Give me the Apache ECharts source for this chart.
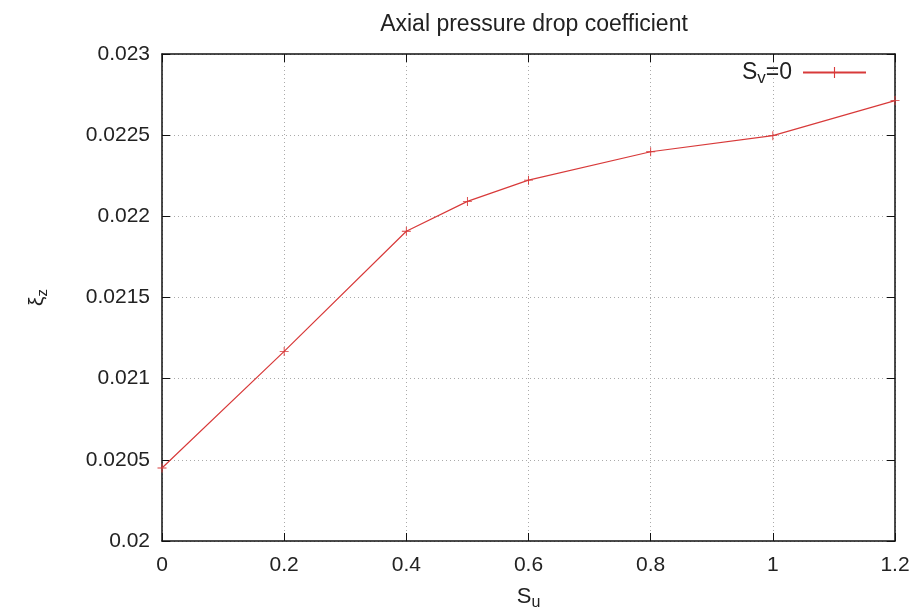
<!DOCTYPE html>
<html><head><meta charset="utf-8">
<script src="https://cdn.jsdelivr.net/npm/echarts@6/dist/echarts.min.js"></script>
<style>html,body{margin:0;padding:0;background:#fff}#c{width:916px;height:616px}</style>
</head><body><div id="c"></div>
<script>
const xValues = [0, 0.2, 0.4, 0.5, 0.6, 0.8, 1.0, 1.2];
const yValues = [0.020450, 0.021168, 0.021908, 0.022092, 0.022223, 0.022398, 0.022497, 0.022713];
const seriesName = 'S_v=0';
const titleText = 'Axial pressure drop coefficient';

const FONT = '"Liberation Sans", Arial, sans-serif';
const RED = '#d83a3a';
const fmt = v => String(+v.toFixed(5));
const plus = 'path://M-5,-0.5L5,-0.5L5,0.5L-5,0.5Z M-0.5,-5L0.5,-5L0.5,5L-0.5,5Z';

const chart = echarts.init(document.getElementById('c'));
chart.setOption({
  animation: false,
  backgroundColor: '#fff',
  title: { text: titleText, left: 529, textAlign: 'center', top: 8,
    textStyle: { fontFamily: FONT, fontSize: 23, fontWeight: 'normal', color: '#222' } },
  grid: { left: 162, right: 21, top: 54, bottom: 73, containLabel: false },
  legend: {
    right: 44, top: 56, align: 'right', itemWidth: 63, itemHeight: 14, itemGap: 10,
    data: [{ name: seriesName }],
    formatter: () => '{a|S}{b|v}{a|=0}',
    textStyle: { fontFamily: FONT, color: '#222', padding: [0, 6, 0, 0],
      rich: { a: { fontSize: 23, fontFamily: FONT, color: '#222' },
              b: { fontSize: 17, fontFamily: FONT, color: '#222', padding: [12, 0, 0, 0] } } }
  },
  xAxis: [{
    type: 'value', min: 0, max: 1.2, interval: 0.2, position: 'bottom',
    name: '{a|S}{b|u}', nameLocation: 'middle', nameGap: 42,
    nameTextStyle: { rich: { a: { fontSize: 22, fontFamily: FONT, color: '#222' },
                             b: { fontSize: 16, fontFamily: FONT, color: '#222', padding: [12, 0, 0, 0] } } },
    axisLine: { show: true, onZero: false, lineStyle: { color: '#111', width: 1.5 } },
    axisTick: { show: true, inside: true, length: 8, lineStyle: { color: '#111' } },
    axisLabel: { formatter: fmt, fontFamily: FONT, fontSize: 21, color: '#222', margin: 14 },
    splitLine: { show: true, lineStyle: { color: '#aaa', type: [1, 3], width: 1 } }
  }, {
    type: 'value', min: 0, max: 1.2, interval: 0.2, position: 'top',
    axisLine: { show: true, onZero: false, lineStyle: { color: '#111', width: 1.5 } },
    axisTick: { show: true, inside: true, length: 8, lineStyle: { color: '#111' } },
    axisLabel: { show: false }, splitLine: { show: false }
  }],
  yAxis: [{
    type: 'value', min: 0.02, max: 0.023, interval: 0.0005, position: 'left',
    name: '{a|ξ}{b|z}', nameLocation: 'middle', nameGap: 112, nameRotate: 90,
    nameTextStyle: { rich: { a: { fontSize: 21, fontFamily: FONT, color: '#222' },
                             b: { fontSize: 15, fontFamily: FONT, color: '#222', padding: [10, 0, 0, 0] } } },
    axisLine: { show: true, onZero: false, lineStyle: { color: '#111', width: 1.5 } },
    axisTick: { show: true, inside: true, length: 8, lineStyle: { color: '#111' } },
    axisLabel: { formatter: fmt, fontFamily: FONT, fontSize: 21, color: '#222', margin: 12 },
    splitLine: { show: true, lineStyle: { color: '#aaa', type: [1, 3], width: 1 } }
  }, {
    type: 'value', min: 0.02, max: 0.023, interval: 0.0005, position: 'right',
    axisLine: { show: true, onZero: false, lineStyle: { color: '#111', width: 1.5 } },
    axisTick: { show: true, inside: true, length: 8, lineStyle: { color: '#111' } },
    axisLabel: { show: false }, splitLine: { show: false }
  }],
  series: [{
    name: seriesName, type: 'line', xAxisIndex: 0, yAxisIndex: 0,
    data: xValues.map((x, i) => [x, yValues[i]]),
    symbol: plus, symbolSize: 9, showAllSymbol: true,
    lineStyle: { color: RED, width: 1.2 },
    itemStyle: { color: RED },
    emphasis: { disabled: true }
  }]
});
</script></body></html>
